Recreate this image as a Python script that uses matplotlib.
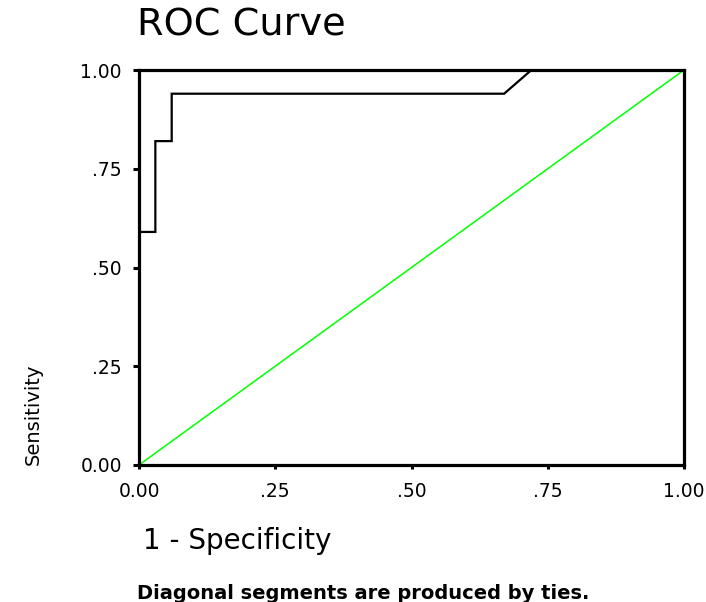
import matplotlib
matplotlib.use("Agg")
import matplotlib.pyplot as plt

# ROC curve points (1 - specificity, sensitivity)
fpr = [0.0, 0.0, 0.03, 0.03, 0.06, 0.06, 0.67, 0.72, 1.0]
tpr = [0.0, 0.59, 0.59, 0.82, 0.82, 0.94, 0.94, 1.0, 1.0]
ref_x = [0.0, 1.0]
ref_y = [0.0, 1.0]
tick_vals = [0.0, 0.25, 0.5, 0.75, 1.0]
tick_labels = ["0.00", ".25", ".50", ".75", "1.00"]

plt.rcParams['font.family'] = ['DejaVu Sans']

W, H = 706, 602
fig = plt.figure(figsize=(W / 100, H / 100), dpi=100, facecolor='white')
ax = fig.add_axes([139 / W, 1 - 465 / H, 545 / W, 395 / H])

ax.plot(ref_x, ref_y, color='#00ff00', lw=1.1, zorder=2)
ax.plot(fpr, tpr, color='black', lw=1.6, zorder=3, solid_joinstyle='miter')

ax.set_xlim(0, 1)
ax.set_ylim(0, 1)
for s in ax.spines.values():
    s.set_linewidth(2.3)

ax.set_xticks(tick_vals)
ax.set_xticklabels(tick_labels)
ax.set_yticks(tick_vals)
ax.set_yticklabels(tick_labels)
ax.tick_params(axis='x', direction='out', length=3, width=2.2, pad=9, labelsize=13.5)
ax.tick_params(axis='y', direction='out', length=4.3, width=2.2, pad=8, labelsize=13.5)

fig.text(137 / W, 1 - 36 / H, "ROC Curve", fontsize=27.5, ha='left', va='baseline')
fig.text(143 / W, 1 - 549 / H, "1 - Specificity", fontsize=20, ha='left', va='baseline')
fig.text(137 / W, 1 - 599 / H, "Diagonal segments are produced by ties.",
         fontsize=14, fontweight='bold', ha='left', va='baseline')
fig.text(33 / W, 1 - 414 / H, "Sensitivity", fontsize=14, rotation=90,
         ha='center', va='center')

fig.savefig("out.png", dpi=100, facecolor='white')
